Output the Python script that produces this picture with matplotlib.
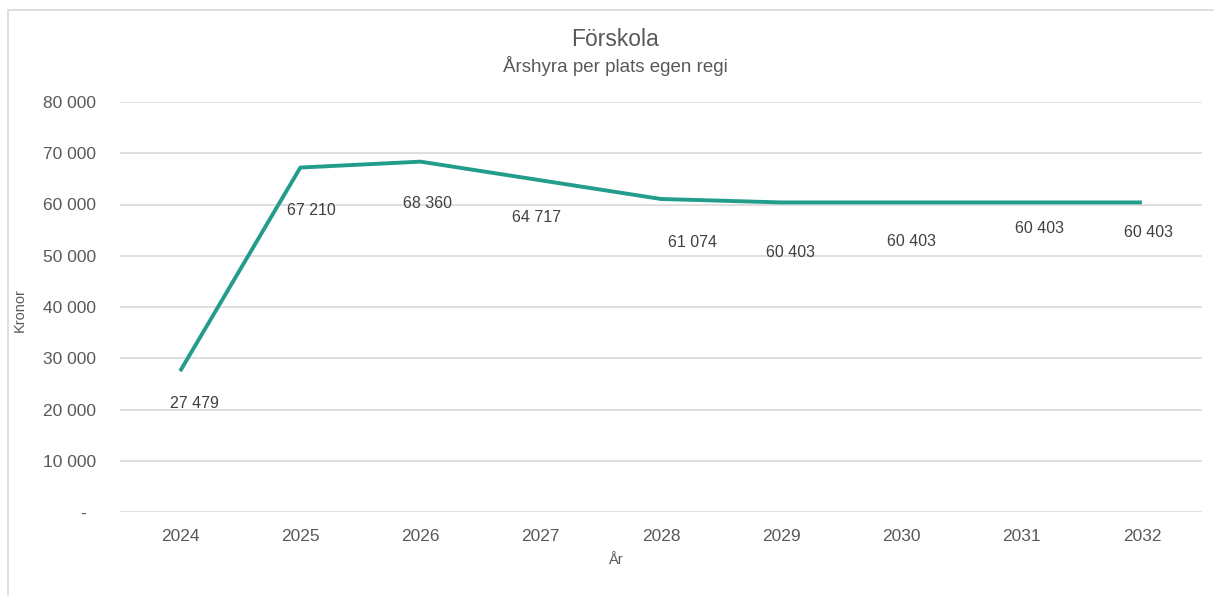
import matplotlib
matplotlib.use("Agg")
import matplotlib.pyplot as plt
from matplotlib.patches import Rectangle
from matplotlib.ticker import FuncFormatter

plt.rcParams['font.family'] = ['Liberation Sans', 'DejaVu Sans']

years = ['2024', '2025', '2026', '2027', '2028', '2029', '2030', '2031', '2032']
values = [27479, 67210, 68360, 64717, 61074, 60403, 60403, 60403, 60403]
yticks = [0, 10000, 20000, 30000, 40000, 50000, 60000, 70000, 80000]

# label offsets in points (styling)
label_offsets = [(10, -23), (8, -31), (5, -30), (-3, -27), (23, -31), (7, -36), (7, -28), (13, -19), (5, -22)]

TEXT = '#595959'
GRID = '#d9d9d9'
LINE = '#229C8B'

fig = plt.figure(figsize=(12.14, 5.96), dpi=100)
ax = fig.add_axes([120/1214, 1-512/596, (1202-120)/1214, (512-102)/596])

x = list(range(len(years)))
ax.plot(x, values, color=LINE, lw=2.8, solid_joinstyle='round', solid_capstyle='butt', zorder=3)

def fmt(v):
    return f"{int(round(v)):,}".replace(',', ' ')

for xi, v, off in zip(x, values, label_offsets):
    ax.annotate(fmt(v), (xi, v), xytext=off, textcoords='offset points',
                ha='center', va='center', fontsize=11.5, color='#404040')

ax.set_xlim(-0.5, len(years) - 0.5)
ax.set_ylim(0, 80000)
ax.set_yticks(yticks)
ax.yaxis.set_major_formatter(FuncFormatter(lambda v, p: '-  ' if v == 0 else fmt(v)))
ax.set_xticks(x)
ax.set_xticklabels(years)
ax.tick_params(axis='both', length=0, colors=TEXT, labelsize=12.5)
ax.tick_params(axis='y', pad=17)
ax.tick_params(axis='x', pad=12)
ax.grid(axis='y', color=GRID, lw=1.2)
ax.set_axisbelow(True)
for s in ax.spines.values():
    s.set_visible(False)

fig.text(615/1214, 1-40/596, 'Förskola', ha='center', va='center', fontsize=16.5, color=TEXT)
fig.text(615/1214, 1-66/596, 'Årshyra per plats egen regi', ha='center', va='center', fontsize=13.5, color=TEXT)
fig.text(615/1214, 1-560/596, 'År', ha='center', va='center', fontsize=10.5, color=TEXT)
fig.text(20/1214, 1-310/596, 'Kronor', ha='center', va='center', fontsize=10.5, color=TEXT, rotation=90)

# chart frame
fig.patches.append(Rectangle((8/1214, -0.05), 1.2, 1 - 10/596 + 0.05, transform=fig.transFigure,
                             fill=False, edgecolor='#d9d9d9', lw=1.2))

fig.savefig('out.png', dpi=100, facecolor='white')
